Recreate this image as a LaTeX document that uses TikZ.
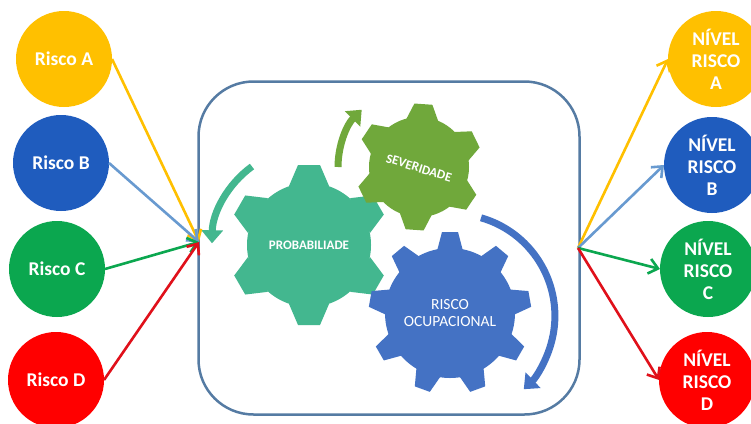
\documentclass[tikz,border=0pt]{standalone}
\usepackage{fontspec}
\setmainfont{Carlito}
\usetikzlibrary{arrows.meta}
\definecolor{cya}{HTML}{FFC000}
\definecolor{cyb}{HTML}{1F5CBE}
\definecolor{cyc}{HTML}{0BA74F}
\definecolor{cyd}{HTML}{FF0000}
\definecolor{lnb}{HTML}{689AD0}
\definecolor{lnc}{HTML}{0BA74F}
\definecolor{lnd}{HTML}{E0101A}
\definecolor{boxc}{HTML}{557BA3}
\definecolor{gp}{HTML}{43B78F}
\definecolor{gs}{HTML}{70A83B}
\definecolor{gr}{HTML}{4472C4}
\tikzset{
  riskdot/.style={circle,minimum size=96pt,inner sep=0pt,outer sep=0pt,text=white,font=\bfseries\fontsize{19.5}{22}\selectfont,align=center},
  conn/.style={line width=2.6pt,-{Straight Barb[length=9pt,width=15pt,line width=2.6pt]}},
  turn/.style={line width=7pt,-{Triangle[length=13pt,width=21pt]}},
  gearlabel/.style={text=white,align=center,inner sep=0pt}
}
% #1 center, #2 colour, #3 body r, #4 outer R, #5 base half, #6 tip half, #7 list of angles
\newcommand{\gearshape}[7]{%
  \fill[#2] #1 circle (#3pt);
  \foreach \a in {#7}{
    \fill[#2,shift={#1},rotate=\a] (#3-3,-#5) -- (#4,-#6) -- (#4,#6) -- (#3-3,#5) -- cycle;
  }%
}
\begin{document}
\begin{tikzpicture}[x=1pt,y=1pt]
\useasboundingbox (0,0) rectangle (751,-423);
\fill[white] (0,0) rectangle (751,-423);
\begin{scope}
\clip (0,0) rectangle (751,-423);
\node[riskdot,fill=cya] (la) at (64,-59) {Risco A};
\node[riskdot,fill=cyb] (lb) at (61,-163) {Risco B};
\node[riskdot,fill=cyc] (lc) at (57,-269) {Risco C};
\node[riskdot,fill=cyd] (ld) at (56,-380) {Risco D};
\node[riskdot,fill=cya] (ra) at (716,-59) {NÍVEL\\RISCO\\A};
\node[riskdot,fill=cyb] (rb) at (712,-165) {NÍVEL\\RISCO\\B};
\node[riskdot,fill=cyc] (rc) at (708,-269) {NÍVEL\\RISCO\\C};
\node[riskdot,fill=cyd] (rd) at (707,-380) {NÍVEL\\RISCO\\D};
\end{scope}
\node[draw=boxc,line width=2.5pt,rounded corners=55pt,minimum width=381pt,minimum height=333pt,inner sep=0pt,outer sep=0pt] (box) at (389,-248) {};
\gearshape{(309,-245)}{gp}{62}{80}{20}{11}{30,90,150,210,270,330}
\gearshape{(419,-167)}{gs}{50}{63}{16}{9}{26,86,146,206,266,326}
\gearshape{(450,-313)}{gr}{65}{81}{13}{8}{90,130,170,210,250,290,330,10,50}
\draw[turn,gp] (309,-245) ++(126:97) arc[start angle=126,end angle=179,radius=97];
\draw[turn,gs] (419,-167) ++(180:81) arc[start angle=180,end angle=135,radius=81];
\draw[turn,gr] (454,-312) ++(74:98) arc[start angle=74,end angle=-46,radius=102];
\node[gearlabel,font=\bfseries\fontsize{13}{15}\selectfont] (gpt) at (309,-245) {PROBABILIADE};
\node[gearlabel,font=\bfseries\fontsize{13}{15}\selectfont,rotate=-17] (gst) at (419,-168) {SEVERIDADE};
\node[gearlabel,font=\fontsize{15.5}{17}\selectfont] (grt) at (450,-313) {RISCO\\OCUPACIONAL};
\coordinate (inpt) at (199,-242);
\coordinate (outpt) at (578,-248);
\draw[conn,cya] (la.east) -- (inpt);
\draw[conn,lnb] (lb.east) -- (inpt);
\draw[conn,lnc] (lc.east) -- (inpt);
\draw[conn,lnd] (ld.east) -- (inpt);
\draw[conn,cya] (outpt) -- (ra.west);
\draw[conn,lnb] (outpt) -- (rb.west);
\draw[conn,lnc] (outpt) -- (rc.west);
\draw[conn,lnd] (outpt) -- (rd.west);
\end{tikzpicture}
\end{document}
